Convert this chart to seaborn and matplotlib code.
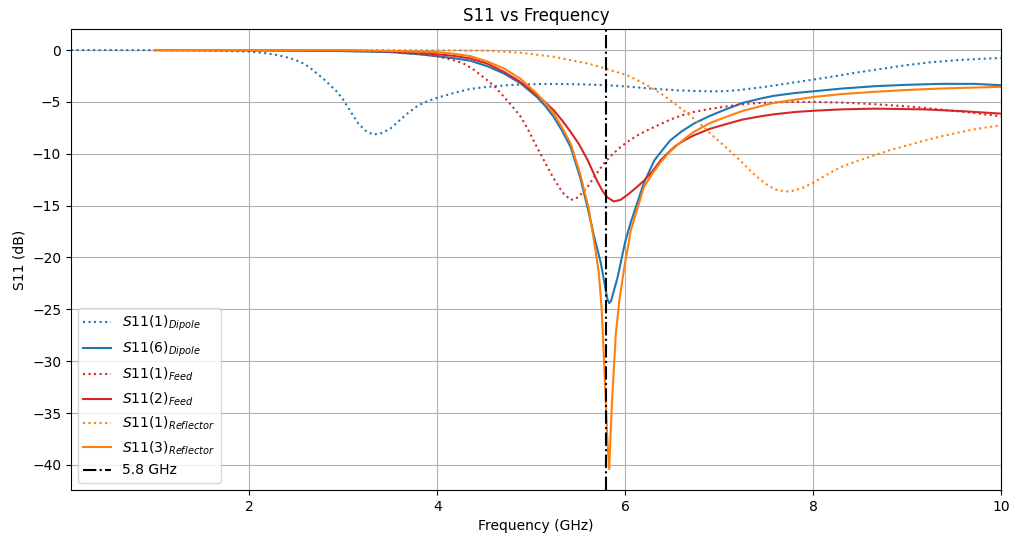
import matplotlib
matplotlib.use("Agg")
import matplotlib.pyplot as plt
import seaborn as sns

# Dipole, first iteration (wider sweep starting at 0.1 GHz)
freq_dip1 = [0.1, 0.5, 1.0, 1.5, 1.8, 2.0, 2.19, 2.33, 2.44, 2.54, 2.63, 2.72, 2.79,
             2.86, 2.93, 2.99, 3.08, 3.16, 3.24, 3.32, 3.41, 3.50, 3.59, 3.68, 3.77,
             3.86, 4.0, 4.18, 4.35, 4.53, 4.7, 4.89, 5.1, 5.3, 5.6, 5.92, 6.15, 6.38,
             6.55, 6.73, 6.9, 7.02, 7.2, 7.4, 7.6, 7.8, 8.01, 8.25, 8.47, 8.75, 9.0,
             9.25, 9.54, 9.8, 10.0]
s11_dip1 = [0.0, 0.0, -0.01, -0.05, -0.1, -0.15, -0.32, -0.55, -0.8, -1.13, -1.6, -2.26,
            -2.8, -3.39, -4.0, -4.68, -5.97, -7.1, -7.8, -8.15, -8.0, -7.58, -6.85,
            -6.13, -5.5, -5.05, -4.6, -4.13, -3.75, -3.55, -3.42, -3.32, -3.28, -3.27,
            -3.32, -3.45, -3.62, -3.78, -3.88, -3.94, -3.98, -3.98, -3.87, -3.65, -3.4,
            -3.12, -2.84, -2.5, -2.16, -1.78, -1.45, -1.18, -0.97, -0.84, -0.77]

# Dipole, sixth iteration
freq_dip6 = [1.0, 2.0, 2.5, 3.0, 3.5, 3.82, 4.0, 4.17, 4.35, 4.53, 4.71, 4.89, 5.06,
             5.15, 5.24, 5.33, 5.42, 5.52, 5.6, 5.67, 5.74, 5.79, 5.81, 5.83, 5.85,
             5.88, 5.92, 5.96, 6.0, 6.06, 6.13, 6.2, 6.31, 6.4, 6.48, 6.6, 6.73, 6.9,
             7.09, 7.25, 7.44, 7.58, 7.8, 8.01, 8.3, 8.65, 9.0, 9.36, 9.71, 10.0]
s11_dip6 = [0.0, -0.02, -0.05, -0.1, -0.2, -0.42, -0.6, -0.78, -1.03, -1.55, -2.26,
            -3.23, -4.52, -5.4, -6.45, -7.8, -9.36, -12.26, -15.2, -18.0, -20.5, -23.0,
            -24.0, -24.4, -24.2, -23.2, -21.9, -20.2, -18.5, -16.6, -14.7, -12.8,
            -10.65, -9.6, -8.71, -7.85, -7.1, -6.35, -5.65, -5.1, -4.68, -4.42, -4.15,
            -3.97, -3.72, -3.49, -3.35, -3.26, -3.26, -3.39]

# Feed, first iteration
freq_feed1 = [1.0, 2.0, 3.0, 3.5, 3.82, 4.0, 4.17, 4.28, 4.39, 4.53, 4.62, 4.71, 4.8,
              4.89, 4.98, 5.06, 5.15, 5.24, 5.33, 5.42, 5.5, 5.6, 5.68, 5.77, 5.86,
              5.95, 6.04, 6.13, 6.22, 6.31, 6.48, 6.6, 6.73, 6.9, 7.09, 7.25, 7.44,
              7.76, 8.0, 8.29, 8.55, 8.83, 9.1, 9.36, 9.7, 10.0]
s11_feed1 = [0.0, -0.02, -0.08, -0.15, -0.39, -0.6, -0.97, -1.3, -1.9, -2.9, -3.6,
             -4.52, -5.45, -6.45, -7.9, -9.36, -10.9, -12.4, -13.7, -14.46, -14.2,
             -13.2, -12.1, -10.97, -10.1, -9.36, -8.75, -8.23, -7.8, -7.42, -6.71,
             -6.3, -5.97, -5.68, -5.42, -5.23, -5.1, -5.0, -5.0, -5.06, -5.17, -5.32,
             -5.5, -5.74, -6.05, -6.39]

# Feed, second iteration
freq_feed2 = [1.0, 2.0, 3.0, 3.5, 3.82, 4.17, 4.35, 4.53, 4.71, 4.89, 5.06, 5.15, 5.24,
              5.33, 5.42, 5.51, 5.6, 5.7, 5.76, 5.81, 5.88, 5.95, 6.02, 6.1, 6.2, 6.29,
              6.38, 6.48, 6.55, 6.64, 6.73, 6.9, 7.09, 7.25, 7.44, 7.58, 7.8, 8.01, 8.3,
              8.65, 9.18, 9.6, 10.0]
s11_feed2 = [0.0, -0.01, -0.05, -0.12, -0.26, -0.55, -0.81, -1.3, -2.1, -3.1, -4.36,
             -5.05, -5.81, -6.8, -7.9, -9.1, -10.6, -12.6, -13.6, -14.2, -14.6, -14.45,
             -14.0, -13.4, -12.6, -11.7, -10.6, -9.7, -9.15, -8.65, -8.23, -7.6, -7.1,
             -6.7, -6.39, -6.2, -5.98, -5.85, -5.72, -5.65, -5.72, -5.9, -6.13]

# Reflector, first iteration
freq_ref1 = [1.0, 2.0, 3.0, 4.0, 4.53, 4.89, 5.06, 5.24, 5.42, 5.6, 5.77, 5.92, 6.02,
             6.13, 6.2, 6.29, 6.38, 6.46, 6.55, 6.64, 6.73, 6.82, 6.91, 7.0, 7.09, 7.18,
             7.26, 7.35, 7.44, 7.52, 7.6, 7.71, 7.8, 7.9, 8.01, 8.15, 8.29, 8.47, 8.65,
             8.82, 9.0, 9.18, 9.36, 9.55, 9.71, 9.85, 10.0]
s11_ref1 = [0.0, 0.0, 0.0, -0.02, -0.06, -0.26, -0.45, -0.65, -0.97, -1.29, -1.72,
            -2.15, -2.42, -2.9, -3.23, -3.7, -4.19, -4.7, -5.32, -5.95, -6.61, -7.3,
            -8.07, -8.8, -9.52, -10.25, -10.97, -11.8, -12.5, -13.05, -13.45, -13.65,
            -13.55, -13.25, -12.75, -12.0, -11.3, -10.7, -10.16, -9.65, -9.2, -8.75,
            -8.33, -7.95, -7.65, -7.45, -7.26]

# Reflector, third iteration
freq_ref3 = [1.0, 2.0, 3.0, 3.5, 4.0, 4.17, 4.35, 4.53, 4.71, 4.89, 5.06, 5.15, 5.24,
             5.33, 5.42, 5.52, 5.61, 5.67, 5.72, 5.75, 5.77, 5.79, 5.81, 5.83, 5.845,
             5.86, 5.9, 5.94, 5.99, 6.06, 6.13, 6.2, 6.29, 6.38, 6.46, 6.55, 6.64, 6.73,
             6.9, 7.09, 7.25, 7.44, 7.58, 7.8, 8.01, 8.3, 8.65, 9.0, 9.36, 9.7, 10.0]
s11_ref3 = [0.0, 0.0, -0.02, -0.08, -0.2, -0.35, -0.58, -1.1, -1.77, -2.8, -4.2, -5.1,
            -6.13, -7.5, -9.03, -11.9, -15.2, -18.5, -21.5, -25.0, -29.0, -33.0, -37.5,
            -40.4, -37.0, -33.9, -27.4, -24.0, -21.0, -17.4, -15.3, -13.2, -11.9, -10.8,
            -9.95, -9.2, -8.5, -7.9, -7.05, -6.39, -5.87, -5.42, -5.1, -4.8, -4.52,
            -4.25, -4.03, -3.85, -3.71, -3.62, -3.55]

target_freq = 5.8

series = [
    (freq_dip1, s11_dip1, "tab:blue", ":", r"$S11(1)_{Dipole}$"),
    (freq_dip6, s11_dip6, "tab:blue", "-", r"$S11(6)_{Dipole}$"),
    (freq_feed1, s11_feed1, "tab:red", ":", r"$S11(1)_{Feed}$"),
    (freq_feed2, s11_feed2, "tab:red", "-", r"$S11(2)_{Feed}$"),
    (freq_ref1, s11_ref1, "tab:orange", ":", r"$S11(1)_{Reflector}$"),
    (freq_ref3, s11_ref3, "tab:orange", "-", r"$S11(3)_{Reflector}$"),
]

fig, ax = plt.subplots(figsize=(10.11, 5.39), dpi=100)
fig.subplots_adjust(left=0.0702, right=0.990, top=0.946, bottom=0.091)

for x, y, color, ls, label in series:
    sns.lineplot(x=x, y=y, ax=ax, color=color, linestyle=ls, linewidth=1.5,
                 label=label, sort=False)

ax.axvline(target_freq, color="black", linestyle="-.", linewidth=1.5,
           label=f"{target_freq} GHz")

ax.set_xlim(0.1, 10)
ax.set_title("S11 vs Frequency")
ax.set_xlabel("Frequency (GHz)")
ax.set_ylabel("S11 (dB)")
ax.grid(True)
ax.legend(loc="lower left")

fig.savefig("out.png", dpi=100)
